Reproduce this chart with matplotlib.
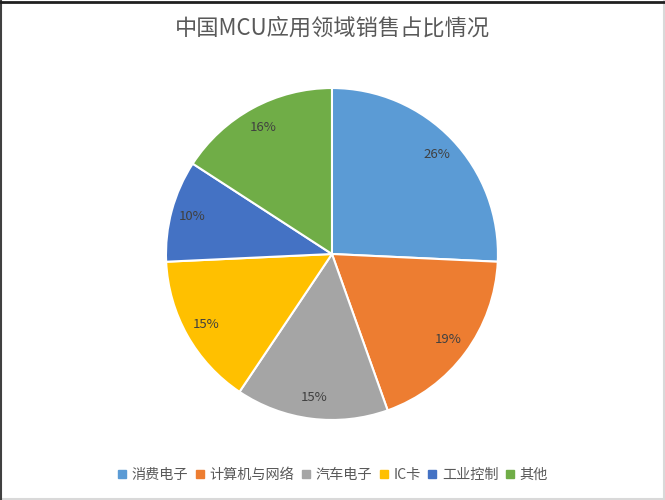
import matplotlib
matplotlib.use('Agg')
import matplotlib.pyplot as plt
from matplotlib.lines import Line2D

plt.rcParams['font.family'] = ['Noto Sans CJK SC', 'DejaVu Sans']

title = '中国MCU应用领域销售占比情况'
categories = ['消费电子', '计算机与网络', '汽车电子', 'IC卡', '工业控制', '其他']
shares = [26, 19, 15, 15, 10, 16]
colors = ['#5B9BD5', '#ED7D31', '#A5A5A5', '#FFC000', '#4472C4', '#70AD47']
text_color = '#595959'

fig = plt.figure(figsize=(6.65, 5), dpi=100)
ax = fig.add_axes([0.2496, 0.16, 0.4992, 0.664])

wedges, texts, autotexts = ax.pie(
    shares, colors=colors, startangle=90, counterclock=False,
    autopct='%d%%', pctdistance=0.87, radius=1,
    wedgeprops=dict(edgecolor='white', linewidth=1.5),
    textprops=dict(color='#404040', fontsize=9.5))
for t, v in zip(autotexts, shares):
    t.set_text('{}%'.format(v))
ax.set_xlim(-1, 1)
ax.set_ylim(-1, 1)
ax.set_aspect('equal')
ax.axis('off')

fig.text(0.5, 0.944, title, ha='center', va='center', fontsize=16, color=text_color)

handles = [Line2D([], [], marker='s', linestyle='none', markersize=6,
                  markerfacecolor=c, markeredgecolor=c) for c in colors]
fig.legend(handles, categories, loc='center', bbox_to_anchor=(0.5, 0.05), ncol=6,
           frameon=False, handlelength=0.7, handletextpad=0.35, columnspacing=0.45,
           labelcolor=text_color, prop={'size': 10.2})

# chart border
fig.add_artist(Line2D([0.998, 0.998], [0, 1], color='#d9d9d9', lw=1.5, transform=fig.transFigure))
fig.add_artist(Line2D([0, 1], [0.003, 0.003], color='#d9d9d9', lw=1.5, transform=fig.transFigure))
fig.add_artist(Line2D([0.002, 0.002], [0, 1], color='#404040', lw=1.5, transform=fig.transFigure))
fig.add_artist(Line2D([0, 1], [0.997, 0.997], color='#202020', lw=2, transform=fig.transFigure))

fig.savefig('out.png', dpi=100, facecolor='white')
